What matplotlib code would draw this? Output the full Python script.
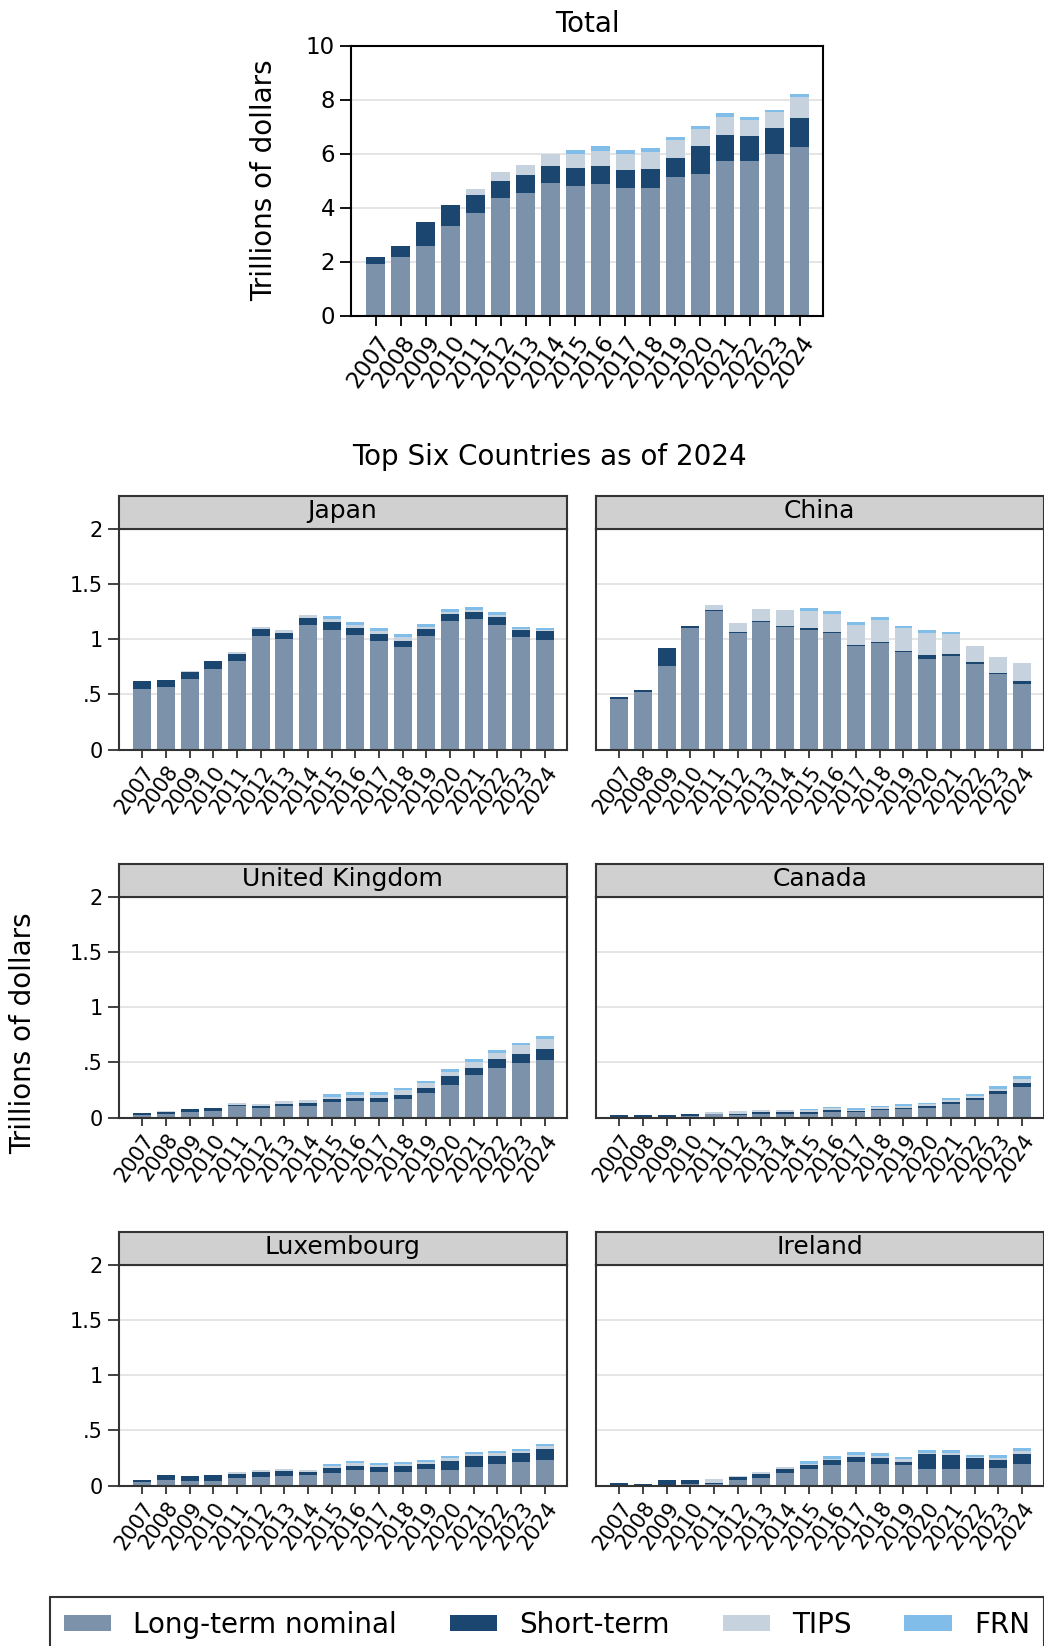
import numpy as np
import matplotlib
matplotlib.use("Agg")
import matplotlib.pyplot as plt
from matplotlib.patches import Patch

years = [str(y) for y in range(2007, 2025)]
series = ["Long-term nominal", "Short-term", "TIPS", "FRN"]
colors = ["#7b92aa", "#1b4670", "#c6d3df", "#80bde8"]

# trillions of dollars, all foreign holders
total_lt = [1.91, 2.17, 2.58, 3.32, 3.80, 4.36, 4.54, 4.91, 4.80, 4.88, 4.73, 4.73, 5.14, 5.25, 5.73, 5.73, 5.99, 6.25]
total_st = [0.26, 0.41, 0.89, 0.78, 0.67, 0.63, 0.67, 0.63, 0.67, 0.66, 0.67, 0.70, 0.70, 1.03, 0.96, 0.92, 0.96, 1.07]
total_tips = [0, 0, 0, 0, 0.22, 0.31, 0.37, 0.46, 0.53, 0.56, 0.59, 0.63, 0.67, 0.63, 0.68, 0.60, 0.59, 0.78]
total_frn = [0, 0, 0, 0, 0, 0, 0, 0, 0.14, 0.16, 0.15, 0.15, 0.11, 0.11, 0.14, 0.11, 0.08, 0.11]

countries = ["Japan", "China", "United Kingdom", "Canada", "Luxembourg", "Ireland"]

japan_lt = [0.545, 0.564, 0.636, 0.727, 0.80, 1.027, 1.0, 1.127, 1.082, 1.036, 0.982, 0.927, 1.027, 1.164, 1.182, 1.127, 1.018, 0.991]
japan_st = [0.073, 0.063, 0.064, 0.073, 0.064, 0.064, 0.055, 0.064, 0.073, 0.064, 0.063, 0.055, 0.064, 0.063, 0.063, 0.073, 0.064, 0.082]
japan_tips = [0, 0, 0.009, 0, 0.018, 0.018, 0.027, 0.027, 0.027, 0.027, 0.028, 0.036, 0.018, 0.018, 0.019, 0.018, 0.009, 0.009]
japan_frn = [0, 0, 0, 0, 0, 0, 0, 0, 0.027, 0.028, 0.027, 0.027, 0.027, 0.028, 0.024, 0.027, 0.024, 0.018]

china_lt = [0.455, 0.518, 0.755, 1.10, 1.258, 1.055, 1.158, 1.109, 1.085, 1.055, 0.939, 0.964, 0.882, 0.818, 0.848, 0.779, 0.682, 0.591]
china_st = [0.018, 0.018, 0.163, 0.018, 0.006, 0.009, 0.006, 0.009, 0.015, 0.009, 0.009, 0.009, 0.009, 0.037, 0.016, 0.012, 0.012, 0.027]
china_tips = [0, 0, 0, 0, 0.045, 0.081, 0.109, 0.149, 0.158, 0.163, 0.182, 0.203, 0.209, 0.203, 0.181, 0.145, 0.142, 0.164]
china_frn = [0, 0, 0, 0, 0, 0, 0, 0, 0.024, 0.025, 0.025, 0.024, 0.024, 0.027, 0.025, 0, 0, 0]

uk_lt = [0.027, 0.033, 0.048, 0.058, 0.10, 0.088, 0.103, 0.103, 0.139, 0.148, 0.139, 0.167, 0.221, 0.294, 0.385, 0.448, 0.494, 0.521]
uk_st = [0.018, 0.015, 0.028, 0.027, 0.012, 0.015, 0.018, 0.027, 0.028, 0.028, 0.037, 0.036, 0.046, 0.082, 0.063, 0.085, 0.082, 0.10]
uk_tips = [0, 0.01, 0, 0, 0.018, 0.015, 0.027, 0.028, 0.018, 0.027, 0.027, 0.045, 0.045, 0.036, 0.055, 0.055, 0.082, 0.091]
uk_frn = [0, 0, 0, 0, 0, 0, 0, 0, 0.027, 0.027, 0.027, 0.019, 0.018, 0.027, 0.024, 0.024, 0.018, 0.027]

canada_lt = [0.006, 0.006, 0.005, 0.015, 0.03, 0.021, 0.03, 0.03, 0.03, 0.052, 0.048, 0.064, 0.073, 0.088, 0.121, 0.161, 0.215, 0.279]
canada_st = [0.021, 0.018, 0.016, 0.021, 0.0, 0.012, 0.018, 0.018, 0.022, 0.018, 0.013, 0.015, 0.015, 0.018, 0.021, 0.018, 0.027, 0.033]
canada_tips = [0, 0, 0, 0, 0.018, 0.025, 0.019, 0.019, 0.012, 0.012, 0.009, 0.012, 0.015, 0.015, 0.013, 0.012, 0.013, 0.04]
canada_frn = [0, 0, 0, 0, 0, 0, 0, 0, 0.012, 0.012, 0.015, 0.012, 0.015, 0.015, 0.021, 0.021, 0.03, 0.024]

lux_lt = [0.034, 0.052, 0.043, 0.043, 0.07, 0.079, 0.088, 0.098, 0.116, 0.14, 0.125, 0.125, 0.152, 0.143, 0.171, 0.198, 0.216, 0.235]
lux_st = [0.018, 0.046, 0.045, 0.055, 0.037, 0.043, 0.046, 0.027, 0.046, 0.04, 0.046, 0.055, 0.046, 0.083, 0.10, 0.073, 0.083, 0.10]
lux_tips = [0, 0, 0, 0, 0.018, 0.018, 0.018, 0.018, 0.018, 0.027, 0.018, 0.018, 0.018, 0.027, 0.019, 0.028, 0.018, 0.019]
lux_frn = [0, 0, 0, 0, 0, 0, 0, 0, 0.015, 0.019, 0.018, 0.018, 0.019, 0.018, 0.018, 0.015, 0.018, 0.021]

ireland_lt = [0.006, 0.006, 0.006, 0.012, 0.015, 0.052, 0.07, 0.116, 0.152, 0.189, 0.216, 0.198, 0.189, 0.152, 0.149, 0.152, 0.162, 0.198]
ireland_st = [0.015, 0.012, 0.04, 0.04, 0.012, 0.021, 0.037, 0.036, 0.037, 0.04, 0.046, 0.055, 0.027, 0.135, 0.131, 0.101, 0.073, 0.092]
ireland_tips = [0, 0, 0, 0, 0.031, 0.015, 0.012, 0.013, 0.009, 0.015, 0.015, 0.015, 0.025, 0.012, 0.016, 0.006, 0.018, 0.024]
ireland_frn = [0, 0, 0, 0, 0, 0, 0, 0, 0.025, 0.024, 0.028, 0.031, 0.021, 0.027, 0.027, 0.021, 0.024, 0.024]

country_data = [
    (japan_lt, japan_st, japan_tips, japan_frn),
    (china_lt, china_st, china_tips, china_frn),
    (uk_lt, uk_st, uk_tips, uk_frn),
    (canada_lt, canada_st, canada_tips, canada_frn),
    (lux_lt, lux_st, lux_tips, lux_frn),
    (ireland_lt, ireland_st, ireland_tips, ireland_frn),
]

W, H = 1044, 1646
fig = plt.figure(figsize=(W / 100, H / 100), dpi=100)


def px_axes(x0, y0, x1, y1, **kw):
    # rectangle given in pixels from the top-left corner
    return fig.add_axes([x0 / W, 1 - y1 / H, (x1 - x0) / W, (y1 - y0) / H], **kw)


def stacked(ax, parts, label_size):
    x = np.arange(len(years))
    bottom = np.zeros(len(years))
    for vals, c in zip(parts, colors):
        vals = np.asarray(vals, dtype=float)
        ax.bar(x, vals, 0.76, bottom=bottom, color=c, linewidth=0)
        bottom += vals
    ax.set_xlim(-1.0, 17.93)
    ax.set_xticks(x)
    ax.set_xticklabels(years, rotation=55, ha="right", rotation_mode="anchor",
                       fontsize=label_size)
    ax.yaxis.grid(True, color="#e3e3e3", linewidth=1.3)
    ax.set_axisbelow(True)


# Total panel
ax = px_axes(351, 45.5, 823, 315.5)
stacked(ax, (total_lt, total_st, total_tips, total_frn), 16.5)
ax.set_ylim(0, 10)
ax.set_yticks([0, 2, 4, 6, 8, 10])
ax.tick_params(axis="y", labelsize=16.5, length=8, width=1.3)
ax.tick_params(axis="x", length=7, width=1.3, pad=4)
for s in ax.spines.values():
    s.set_linewidth(1.5)
    s.set_color("black")
ax.set_title("Total", fontsize=20, pad=10)
ax.set_ylabel("Trillions of dollars", fontsize=20, labelpad=20)

fig.text(549 / W, 1 - 457 / H, "Top Six Countries as of 2024", fontsize=20,
         ha="center", va="center")

# country panels, two columns by three rows
cols = [(118.5, 566.7), (595.7, 1043.9)]
rows = [529, 897, 1265]
for i, name in enumerate(countries):
    x0, x1 = cols[i % 2]
    y0 = rows[i // 2]
    y1 = y0 + 220.5
    ax = px_axes(x0, y0, x1, y1)
    stacked(ax, country_data[i], 15)
    ax.set_ylim(0, 2)
    ax.set_yticks([0, 0.5, 1, 1.5, 2])
    if i % 2 == 0:
        ax.set_yticklabels(["0", ".5", "1", "1.5", "2"])
        ax.tick_params(axis="y", labelsize=15, length=8, width=1.3, color="#333333")
    else:
        ax.tick_params(axis="y", left=False, labelleft=False)
    ax.tick_params(axis="x", length=6, width=1.3, pad=3, color="#333333")
    for s in ax.spines.values():
        s.set_linewidth(1.5)
        s.set_color("#333333")

    strip = px_axes(x0, y0 - 33.5, x1, y0)
    strip.set_facecolor("#d0d0d0")
    strip.set_xticks([])
    strip.set_yticks([])
    for s in strip.spines.values():
        s.set_linewidth(1.5)
        s.set_color("#333333")
    strip.text(0.5, 0.55, name, fontsize=18, ha="center", va="center",
               transform=strip.transAxes)

fig.text(23 / W, 1 - 1033 / H, "Trillions of dollars", fontsize=20,
         rotation=90, ha="center", va="center")

handles = [Patch(facecolor=c, edgecolor="none") for c in colors]
leg = fig.legend(handles, series, loc="upper left", bbox_to_anchor=(50 / W, 1 - 1597 / H),
                 ncol=4, fontsize=20, frameon=True, fancybox=False, edgecolor="black",
                 handlelength=1.7, handleheight=0.48, handletextpad=0.8,
                 columnspacing=1.9, borderpad=0.5, borderaxespad=0)
leg.get_frame().set_linewidth(1.5)

fig.savefig("out.png", dpi=100)
